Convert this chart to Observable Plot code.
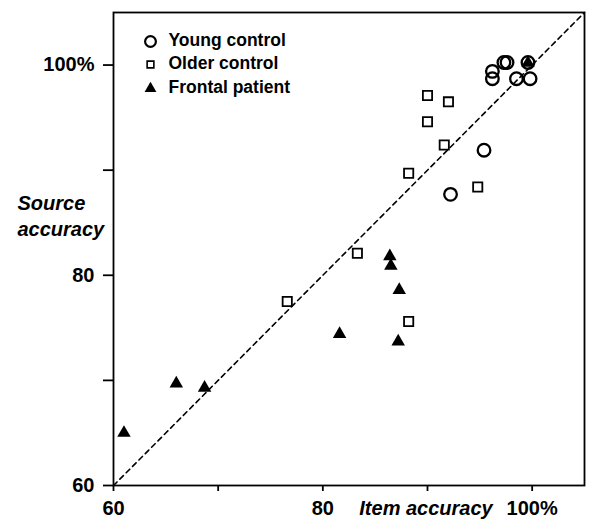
<!DOCTYPE html>
<html>
<head>
<meta charset="utf-8">
<script src="https://cdn.jsdelivr.net/npm/d3@7"></script>
<script src="https://cdn.jsdelivr.net/npm/@observablehq/plot@0.6"></script>
<style>
  html, body { margin: 0; padding: 0; background: #fff; }
</style>
</head>
<body>
<div id="chart"></div>
<script>
// Data
const youngX   = [96.2, 96.2, 97.3, 97.6, 98.5, 99.8, 99.6, 95.4, 92.2];
const youngY   = [99.4, 98.7, 100.25, 100.25, 98.7, 98.7, 100.25, 91.9, 87.7];
const olderX   = [90.0, 92.0, 90.0, 91.6, 88.2, 94.8, 83.3, 76.6, 88.2];
const olderY   = [97.1, 96.5, 94.6, 92.4, 89.7, 88.4, 82.1, 77.5, 75.6];
const frontalX = [99.6, 86.4, 86.5, 87.3, 81.6, 87.2, 61.0, 66.0, 68.7];
const frontalY = [100.2, 81.8, 80.9, 78.6, 74.4, 73.7, 65.0, 69.7, 69.3];

const seriesNames = ["Young control", "Older control", "Frontal patient"];
const xTicks = [60, 70, 80, 90, 100];
const xTickLabels = ["60", "", "80", "", "100%"];
const yTicks = [60, 70, 80, 90, 100];
const yTickLabels = ["60", "", "80", "", "100%"];
const refLine = [60, 105];
const xLabel = "Item accuracy";
const yLabel = "Source\naccuracy";

const toRows = (xs, ys) => xs.map((x, i) => ({x, y: ys[i]}));
const young = toRows(youngX, youngY);
const older = toRows(olderX, olderY);
const frontal = toRows(frontalX, frontalY);

const fmt = (ticks, labels) => d => labels[ticks.indexOf(d)] ?? "";
const font = "Liberation Sans, Arial, Helvetica, sans-serif";

const chart = Plot.plot({
  width: 600,
  height: 527,
  marginLeft: 113,
  marginRight: 16,
  marginTop: 12,
  marginBottom: 42,
  style: {fontFamily: font, fontWeight: "bold", background: "white", color: "black"},
  x: {domain: [60, 105]},
  y: {domain: [60, 105]},
  marks: [
    Plot.line(refLine, {x: d => d, y: d => d, stroke: "black", strokeWidth: 1.6, strokeDasharray: "5,4"}),
    Plot.frame({stroke: "black", strokeWidth: 1.8}),
    Plot.axisX({ticks: xTicks, tickFormat: fmt(xTicks, xTickLabels), tickSize: 6, tickPadding: 9,
                label: null, fontSize: 20, strokeWidth: 1.8}),
    Plot.axisY({ticks: yTicks, tickFormat: fmt(yTicks, yTickLabels), tickSize: 10, tickPadding: 9,
                label: null, fontSize: 20, strokeWidth: 1.8}),
    Plot.dot(older, {x: "x", y: "y", symbol: "square", r: 5.2, stroke: "black", strokeWidth: 1.8, fill: "white"}),
    Plot.dot(young, {x: "x", y: "y", symbol: "circle", r: 6.3, stroke: "black", strokeWidth: 2.3, fill: "none"}),
    Plot.dot(frontal, {x: "x", y: "y", symbol: "triangle", r: 5, fill: "black", stroke: "none"}),
    // legend
    Plot.dot([seriesNames[0]], {frameAnchor: "top-left", dx: 37, dy: 29, symbol: "circle", r: 5.4, stroke: "black", strokeWidth: 2.2, fill: "none"}),
    Plot.dot([seriesNames[1]], {frameAnchor: "top-left", dx: 37, dy: 52, symbol: "square", r: 3.8, stroke: "black", strokeWidth: 1.6, fill: "white"}),
    Plot.dot([seriesNames[2]], {frameAnchor: "top-left", dx: 37, dy: 76, symbol: "triangle", r: 4.4, fill: "black", stroke: "none"}),
    Plot.text([seriesNames[0]], {frameAnchor: "top-left", textAnchor: "start", lineAnchor: "middle", dx: 55, dy: 28, fontSize: 17.5, fontWeight: "bold"}),
    Plot.text([seriesNames[1]], {frameAnchor: "top-left", textAnchor: "start", lineAnchor: "middle", dx: 55, dy: 51, fontSize: 17.5, fontWeight: "bold"}),
    Plot.text([seriesNames[2]], {frameAnchor: "top-left", textAnchor: "start", lineAnchor: "middle", dx: 55, dy: 75, fontSize: 17.5, fontWeight: "bold"}),
    // axis titles
    Plot.text([xLabel], {frameAnchor: "bottom", lineAnchor: "middle", dx: 77, dy: 23, fontSize: 20, fontWeight: "bold", fontStyle: "italic"}),
    Plot.text([yLabel], {frameAnchor: "left", textAnchor: "start", lineAnchor: "middle", dx: -96, dy: -34, lineHeight: 1.3, fontSize: 20, fontWeight: "bold", fontStyle: "italic"})
  ]
});
document.getElementById("chart").append(chart);
</script>
</body>
</html>
